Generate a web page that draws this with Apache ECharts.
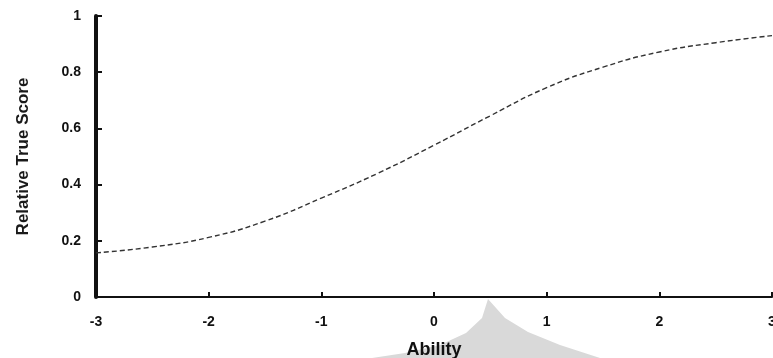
<!DOCTYPE html>
<html>
<head>
<meta charset="utf-8">
<script src="https://cdn.jsdelivr.net/npm/echarts@6/dist/echarts.min.js"></script>
<style>
  html, body { margin: 0; padding: 0; background: #fff; }
  #chart { width: 773px; height: 358px; }
</style>
</head>
<body>
<div id="chart"></div>
<script>
// ability (theta) and relative true score
const ability = [-3, -2.5, -2, -1.5, -1, -0.5, 0, 0.5, 1, 1.5, 2, 2.5, 3]
const trueScore = [0.157, 0.178, 0.212, 0.27, 0.352, 0.44, 0.54, 0.645, 0.745, 0.818, 0.872, 0.905, 0.93]

const labelFont = { color: '#111', fontFamily: 'Liberation Sans, Arial', fontWeight: 'bold', fontSize: 14 }

const chart = echarts.init(document.getElementById('chart'))
chart.setOption({
    animation: false,
    grid: { left: 96, right: 1, top: 16, bottom: 61, outerBoundsMode: 'none' },
    xAxis: {
        type: 'value',
        min: -3,
        max: 3,
        interval: 1,
        name: 'Ability',
        nameLocation: 'middle',
        nameGap: 44,
        nameTextStyle: { color: '#111', fontFamily: 'Liberation Sans, Arial', fontWeight: 'bold', fontSize: 18 },
        axisLine: { onZero: false, lineStyle: { color: '#111', width: 2 } },
        axisTick: { inside: true, length: 5, lineStyle: { color: '#111', width: 2 } },
        axisLabel: { ...labelFont, margin: 18 },
        splitLine: { show: false }
    },
    yAxis: {
        type: 'value',
        min: 0,
        max: 1,
        interval: 0.2,
        name: 'Relative True Score',
        nameLocation: 'middle',
        nameGap: 64,
        nameTextStyle: { color: '#1a1a1a', fontFamily: 'Liberation Sans Narrow, Liberation Sans', fontWeight: 'bold', fontSize: 17 },
        axisLine: { onZero: false, lineStyle: { color: '#111', width: 4 } },
        axisTick: { inside: true, length: 6, lineStyle: { color: '#111', width: 2 } },
        axisLabel: { ...labelFont, margin: 15 },
        splitLine: { show: false }
    },
    graphic: [
        {
            // grey scan smear below the x axis
            type: 'polygon',
            silent: true,
            z: -1,
            shape: {
                points: [[488, 299], [482, 318], [466, 333], [440, 345], [405, 353], [372, 358],
                    [600, 358], [560, 345], [528, 332], [505, 318]]
            },
            style: { fill: '#d9d9d9' }
        }
    ],
    series: [
        {
            type: 'line',
            data: ability.map((a, i) => [a, trueScore[i]]),
            smooth: true,
            showSymbol: false,
            lineStyle: { color: '#333', width: 1.4, type: [5, 3] }
        }
    ]
})
</script>
</body>
</html>
